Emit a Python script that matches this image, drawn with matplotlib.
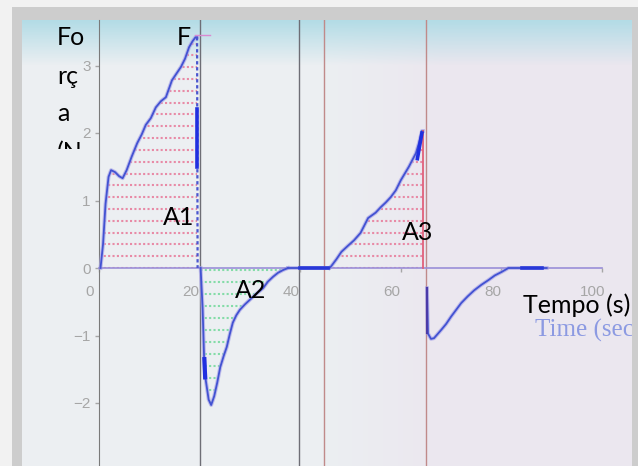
import numpy as np
import matplotlib.pyplot as plt
from matplotlib.colors import to_rgb
from matplotlib.patches import Rectangle
from matplotlib.transforms import Bbox, TransformedBbox, ScaledTranslation

# force curve (time in s, force in N)
t_push1 = [0.3, 0.8, 1.3, 1.9, 2.4, 3.2, 4.0, 4.7, 5.5, 6.5, 7.6, 8.5, 9.3, 10.3,
           11.3, 12.3, 13.3, 14.5, 15.4, 16.3, 17.1, 17.9, 18.6, 19.2, 19.5]
f_push1 = [0.0, 0.35, 0.95, 1.35, 1.45, 1.42, 1.36, 1.33, 1.45, 1.65, 1.85, 1.98, 2.12, 2.22,
           2.38, 2.47, 2.53, 2.78, 2.88, 2.98, 3.10, 3.27, 3.36, 3.42, 3.42]
t_pull1 = [20.2, 20.6, 20.9, 21.2, 21.8, 22.3, 22.9, 23.5, 24.1, 24.8, 25.4, 26.0, 26.6, 27.3,
           28.0, 29.0, 30.0, 31.3, 32.6, 33.6, 34.6, 35.6, 36.6, 37.6]
f_pull1 = [0.0, -0.6, -1.35, -1.65, -1.95, -2.03, -1.9, -1.7, -1.47, -1.3, -1.17, -0.98, -0.81, -0.7,
           -0.62, -0.54, -0.47, -0.38, -0.3, -0.2, -0.13, -0.07, -0.03, 0.0]
t_rest1 = [37.6, 45.8]
t_push2 = [45.8, 46.2, 47.2, 48.2, 49.5, 50.7, 52.0, 53.5, 55.0, 56.0, 57.0, 58.0, 59.0, 60.0,
           60.8, 61.6, 62.3, 63.0, 63.6, 64.2, 64.4]
f_push2 = [0.0, 0.03, 0.13, 0.24, 0.33, 0.41, 0.52, 0.74, 0.82, 0.90, 0.97, 1.05, 1.15, 1.30,
           1.40, 1.50, 1.60, 1.70, 1.85, 2.03, 2.03]
t_pull2 = [65.2, 65.4, 66.0, 66.6, 67.3, 68.0, 69.0, 70.0, 71.0, 72.0, 73.3, 74.6, 76.0, 77.4,
           78.7, 80.0, 81.4, 89.0]
f_pull2 = [-0.3, -0.97, -1.05, -1.04, -0.98, -0.92, -0.83, -0.72, -0.62, -0.52, -0.42, -0.33, -0.25, -0.18,
           -0.11, -0.06, 0.0, 0.0]
x_ticks = [0, 20, 40, 60, 80, 100]
y_ticks = [-2, -1, 0, 1, 2, 3]
gray_lines = [20, 39.7]
red_lines = [44.8, 65]

W, H = 638, 466
X0, SX, Y0, SY = 99, 5.03, 268, 67.5   # pixel <-> data mapping of the photo


def fx(px):
    return px / W


def fy(py):
    return 1 - py / H


fig = plt.figure(figsize=(6.38, 4.66), dpi=100, facecolor='#f2f2f2')
fig.patches.append(Rectangle((fx(12), 0), 1 - fx(12), fy(7), transform=fig.transFigure,
                             facecolor='#cdcdcd', edgecolor='none', zorder=-5))

ax = fig.add_axes([fx(22), 0, fx(632) - fx(22), fy(20)])
xl = ((22 - X0) / SX, (632 - X0) / SX)
yl = ((Y0 - 466) / SY, (Y0 - 20) / SY)

# photo background: cyan glare at the top, lavender screen on the right
h, w = 446, 610
t = np.clip(np.arange(h) / 45, 0, 1)[:, None, None]
mix = np.clip((np.arange(w) - 300) / 120, 0, 1)[None, :, None]
base = np.array(to_rgb('#eceff2')) * (1 - mix) + np.array(to_rgb('#ebe7ef')) * mix
bg = np.array(to_rgb('#b3dce6')) * (1 - t) + base * t
ax.imshow(bg, extent=[xl[0], xl[1], yl[0], yl[1]], aspect='auto', zorder=0)
ax.set_xlim(*xl)
ax.set_ylim(*yl)

for xv in gray_lines:
    ax.axvline(xv, color='#6e6e76', lw=1, zorder=1)
for xv in red_lines:
    ax.axvline(xv, color='#c08a8a', lw=1, zorder=1)

# dotted hatch rows clipped to each area
areas = [(t_push1, f_push1, '#e88aa6', np.arange(0.0, 3.6, 0.175)),
         (t_pull1, f_pull1, '#84dca8', np.arange(-0.03, -2.2, -0.178)),
         (t_push2, f_push2, '#e88aa6', np.arange(0.0, 2.2, 0.175))]
for ts, fs, col, rows in areas:
    poly = ax.fill_between(ts, fs, 0, color='none', lw=0)
    for yy in rows:
        ln, = ax.plot([ts[0] - 1, ts[-1] + 1], [yy, yy], color=col, lw=1.5,
                      ls=(0, (1.0, 1.1)), zorder=2)
        ln.set_clip_path(poly.get_paths()[0], ax.transData)

# curve
curve = dict(color='#4252d2', lw=1.3, zorder=4)
halo = dict(color='#a8a4e8', lw=2.8, alpha=0.7, zorder=3)
for ts, fs in [(t_push1, f_push1), (t_pull1, f_pull1), (t_rest1, [0, 0]),
               (t_push2, f_push2), (t_pull2, f_pull2)]:
    ax.plot(ts, fs, **halo)
    ax.plot(ts, fs, **curve)
ax.plot([19.5, 19.6], [f_push1[-1], 0], color='#4a56cf', lw=1.6, ls=(0, (1.5, 1.2)), zorder=4)
ax.plot([19.55, 19.55], [1.5, 2.35], color='#2030e0', lw=2.6, zorder=5)
ax.plot([20.95, 21.1], [-1.35, -1.62], color='#2030e0', lw=3, zorder=5)
ax.plot([63.3, 64.2], [1.62, 2.0], color='#2030e0', lw=2.6, zorder=5)
ax.plot([64.5, 64.5], [0, f_push2[-1]], color='#e0607a', lw=1.3, zorder=4)
ax.plot([65.3, 65.3], [-0.3, -0.97], color='#4a3aa8', lw=1.6, zorder=4)
ax.plot([40, 45.5], [0, 0], color='#2838d8', lw=2.6, zorder=5)
ax.plot([84, 88], [0, 0], color='#2838d8', lw=2.6, zorder=5)
ax.plot([19.1, 22], [3.45, 3.45], color='#d98ad0', lw=1, zorder=4)

# axes through the origin
for s in ['top', 'right']:
    ax.spines[s].set_visible(False)
ax.spines['left'].set_position(('data', 0))
ax.spines['left'].set_color('#7a7a7a')
ax.spines['bottom'].set_position(('data', 0))
ax.spines['bottom'].set_color('#9a8fd8')
ax.spines['bottom'].set_linewidth(1.2)
ax.spines['bottom'].set_bounds(0, 100)
ax.spines['bottom'].set_zorder(3)
ax.set_xticks(x_ticks)
ax.set_yticks(y_ticks)
ax.tick_params(colors='#a6a6a6', labelsize=11, length=3, width=1)
ax.tick_params(axis='x', pad=9)
ax.tick_params(axis='y', pad=3)
for lab in ax.get_xticklabels() + ax.get_yticklabels():
    lab.set_family('Liberation Sans')
for lab in ax.get_xticklabels():
    lab.set_transform(lab.get_transform() + ScaledTranslation(-0.09, 0, fig.dpi_scale_trans))

ax.text(fx(535), fy(337), 'Time (sec)', transform=fig.transFigure, color='#8c9ae2',
        family='Liberation Serif', fontsize=18, clip_on=True, zorder=6)

# overlaid slide text
over = dict(family='Lato', fontsize=18, color='black', va='baseline', ha='left')
for txt, px, py in [('Fo', 57, 45), ('rç', 57, 84), ('a', 57, 121), ('F', 177, 45),
                    ('A1', 163, 225), ('A2', 235, 298), ('A3', 402, 240),
                    ('Tempo (s)', 523, 313)]:
    fig.text(fx(px), fy(py), txt, **over)
cut = fig.text(fx(57), fy(160), '(N', **over)
cut.set_clip_box(TransformedBbox(Bbox([[0, fy(149)], [1, 1]]), fig.transFigure))
cut.set_clip_on(True)

fig.savefig('out.png', dpi=100, facecolor=fig.get_facecolor())
